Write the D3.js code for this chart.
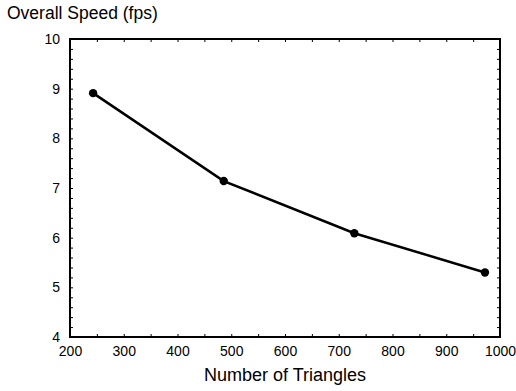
<!DOCTYPE html>
<html>
<head>
<meta charset="utf-8">
<script src="https://cdn.jsdelivr.net/npm/d3@7"></script>
<style>
  body { margin: 0; background: #fff; }
  text { font-family: "Liberation Sans", Arial, sans-serif; fill: #000; }
</style>
</head>
<body>
<div id="chart"></div>
<script>
// Data
const triangles = [243, 486, 729, 972];
const speedFps = [8.91, 7.14, 6.09, 5.30];
const xTicks = [200, 300, 400, 500, 600, 700, 800, 900, 1000];
const yTicks = [4, 5, 6, 7, 8, 9, 10];

const width = 516, height = 391;
const margin = { left: 70, right: 16, top: 39, bottom: 54 };

const svg = d3.select('#chart').append('svg')
    .attr('width', width)
    .attr('height', height);

const x = d3.scaleLinear().domain([200, 1000]).range([margin.left, width - margin.right]);
const y = d3.scaleLinear().domain([4, 10]).range([height - margin.bottom, margin.top]);

// minor inward ticks on all four sides
const xMinor = d3.range(200, 1001, 50);
const yMinor = d3.range(4, 10.01, 0.2);

svg.append('g')
    .attr('transform', `translate(0, ${y(4)})`)
    .call(d3.axisTop(x).tickValues(xMinor).tickSize(3).tickFormat(''))
    .call(g => g.select('.domain').remove());
svg.append('g')
    .attr('transform', `translate(0, ${y(10)})`)
    .call(d3.axisBottom(x).tickValues(xMinor).tickSize(3).tickFormat(''))
    .call(g => g.select('.domain').remove());
svg.append('g')
    .attr('transform', `translate(${x(200)}, 0)`)
    .call(d3.axisRight(y).tickValues(yMinor).tickSize(3).tickFormat(''))
    .call(g => g.select('.domain').remove());
svg.append('g')
    .attr('transform', `translate(${x(1000)}, 0)`)
    .call(d3.axisLeft(y).tickValues(yMinor).tickSize(3).tickFormat(''))
    .call(g => g.select('.domain').remove());
svg.selectAll('.tick line').attr('stroke', '#000').attr('stroke-width', 1);

// tick labels
svg.append('g')
    .attr('transform', `translate(0, ${y(4)})`)
    .call(d3.axisBottom(x).tickValues(xTicks).tickSize(0).tickPadding(9).tickFormat(d3.format('d')))
    .call(g => g.select('.domain').remove())
    .selectAll('text')
    .style('font-size', '14px');
svg.append('g')
    .attr('transform', `translate(${x(200)}, 0)`)
    .call(d3.axisLeft(y).tickValues(yTicks).tickSize(0).tickPadding(10).tickFormat(d3.format('d')))
    .call(g => g.select('.domain').remove())
    .selectAll('text')
    .style('font-size', '14px');

// frame
svg.append('rect')
    .attr('x', x(200))
    .attr('y', y(10))
    .attr('width', x(1000) - x(200))
    .attr('height', y(4) - y(10))
    .attr('fill', 'none')
    .attr('stroke', '#000')
    .attr('stroke-width', 2);

// line + markers
const pts = triangles.map((t, i) => [t, speedFps[i]]);
svg.append('path')
    .datum(pts)
    .attr('fill', 'none')
    .attr('stroke', '#000')
    .attr('stroke-width', 2.5)
    .attr('d', d3.line().x(d => x(d[0])).y(d => y(d[1])));

svg.selectAll('circle')
    .data(pts)
    .enter().append('circle')
    .attr('cx', d => x(d[0]))
    .attr('cy', d => y(d[1]))
    .attr('r', 4.2)
    .attr('fill', '#000');

// titles
svg.append('text')
    .attr('x', 7)
    .attr('y', 19)
    .style('font-size', '17.5px')
    .text('Overall Speed (fps)');

svg.append('text')
    .attr('x', (x(200) + x(1000)) / 2)
    .attr('y', 381)
    .attr('text-anchor', 'middle')
    .style('font-size', '18px')
    .text('Number of Triangles');
</script>
</body>
</html>
